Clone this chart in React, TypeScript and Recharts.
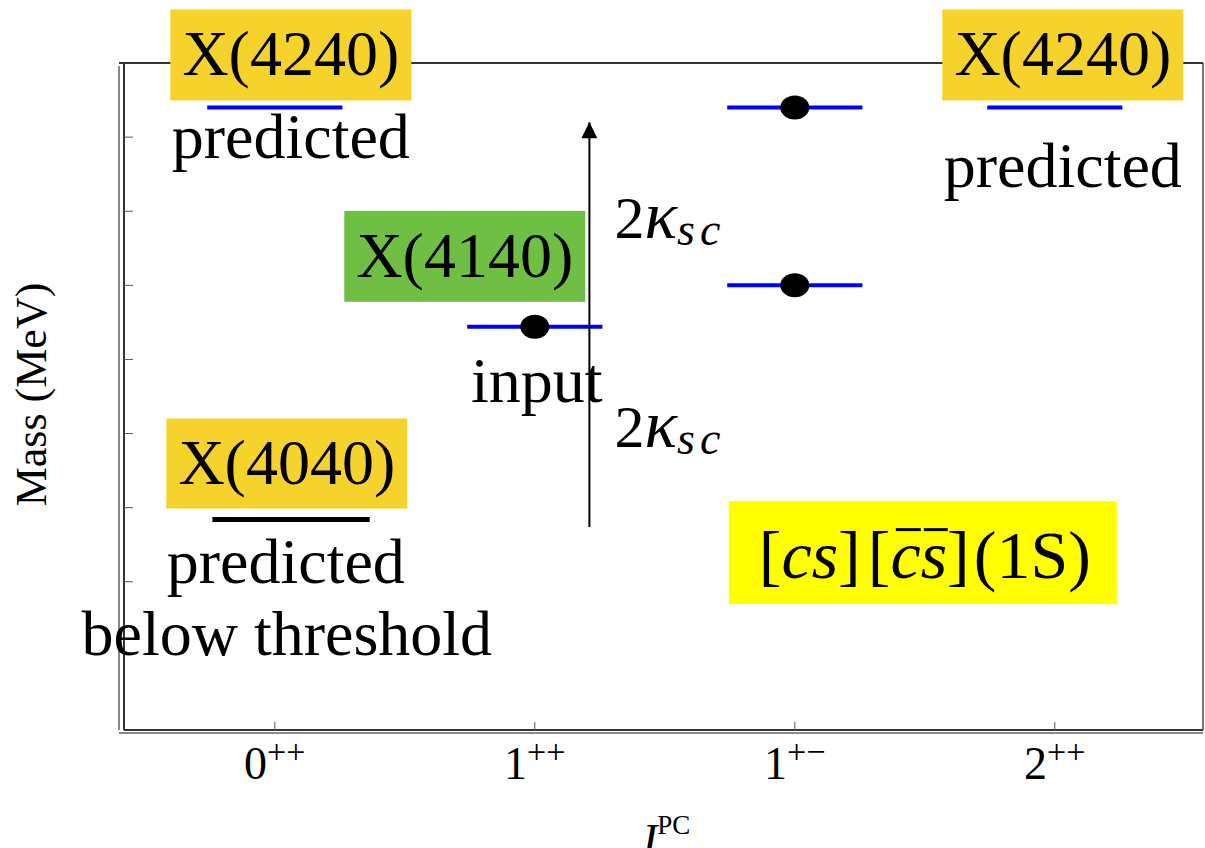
import React from 'react';
import {
  ComposedChart,
  XAxis,
  YAxis,
  Line,
  Scatter,
  ReferenceLine,
  ReferenceDot,
  Label,
} from 'recharts';

const SERIF = '"Liberation Serif", "Times New Roman", Times, serif';

// J^PC categories along the horizontal axis (value = position on the axis)
const categoryPositions = [0, 1, 2, 3];
const tickBases = ['0', '1', '1', '2'];
const tickSups = ['++', '++', '+\u2212', '++'];
const massTicks = [4000, 4050, 4100, 4150, 4200, 4250, 4300];

// [cs][c̄s̄](1S) multiplet levels, MeV
const levelPositions = [0, 1, 2, 2, 3];
const levelMasses = [4320, 4172, 4200, 4320, 4320];
// levels that carry a filled marker
const markerPositions = [1, 2, 2];
const markerMasses = [4172, 4200, 4320];
// 0++ state predicted below threshold
const belowThresholdSpan = [-0.24, 0.365];
const belowThresholdMass = 4042;
// 2κ_sc splitting arrow
const splitArrowPosition = 1.21;
const splitArrowMasses = [4037, 4310];

const X_DOMAIN: [number, number] = [-0.58, 3.57];
const Y_DOMAIN: [number, number] = [3900, 4350];
const LEVEL_HALF_WIDTH = 0.26;
const X_TICK_SIZE = 8;
const X_TICK_MARGIN = 2;

const GOLD = '#F5D22C';
const GREEN = '#6FBF44';
const YELLOW = '#FFFF00';
const BLUE = '#0000FF';

const levelSeries = levelPositions.map((p, i) => [
  { x: p - LEVEL_HALF_WIDTH, m: levelMasses[i] },
  { x: p + LEVEL_HALF_WIDTH, m: levelMasses[i] },
]);
const belowThresholdSeries = belowThresholdSpan.map((x) => ({ x, m: belowThresholdMass }));
const markerSeries = markerPositions.map((x, i) => ({ x, m: markerMasses[i] }));
const arrowSeries = splitArrowMasses.map((m) => ({ x: splitArrowPosition, m }));
const arrowTip = [{ x: splitArrowPosition, m: splitArrowMasses[1] }];

function XTick(props: any) {
  const { x, y, payload } = props;
  const i = categoryPositions.indexOf(payload.value);
  const axisY = y + X_TICK_SIZE + X_TICK_MARGIN;
  return (
    <text x={x} y={axisY + 49} textAnchor="middle" fontFamily={SERIF} fill="#000">
      <tspan fontSize={46}>{tickBases[i]}</tspan>
      <tspan fontSize={34} dy={-16}>{tickSups[i]}</tspan>
    </text>
  );
}

const EmptyTick = () => <g />;

function XTitle(props: any) {
  const { viewBox } = props;
  const cx = viewBox.x + viewBox.width / 2;
  return (
    <text x={cx} y={viewBox.y + 127} textAnchor="middle" fontFamily={SERIF} fill="#000">
      <tspan fontSize={46} fontStyle="italic">J</tspan>
      <tspan fontSize={27} dy={-22}>PC</tspan>
    </text>
  );
}

function YTitle(props: any) {
  const { viewBox } = props;
  const x = viewBox.x - 78;
  const y = viewBox.y + viewBox.height / 2 - 2;
  return (
    <text
      x={x}
      y={y}
      transform={`rotate(-90 ${x} ${y})`}
      textAnchor="middle"
      fontFamily={SERIF}
      fontSize={44}
      fill="#000"
    >
      Mass (MeV)
    </text>
  );
}

// boxed particle name
function Tag({ cx, cy, dx, top, bottom, fill, text }: any) {
  const w = 241;
  return (
    <g>
      <rect x={cx + dx - w / 2} y={cy + top} width={w} height={bottom - top} fill={fill} />
      <text
        x={cx + dx}
        y={cy + bottom - 25}
        textAnchor="middle"
        fontFamily={SERIF}
        fontSize={64}
        fill="#000"
      >
        {text}
      </text>
    </g>
  );
}

function Caption({ cx, cy, dx, dy, text }: any) {
  return (
    <text x={cx + dx} y={cy + dy} textAnchor="middle" fontFamily={SERIF} fontSize={64} fill="#000">
      {text}
    </text>
  );
}

function Kappa({ cx, cy }: any) {
  return (
    <text x={cx + 25} y={cy} fontFamily={SERIF} fontSize={60} fill="#000">
      <tspan>2</tspan>
      <tspan fontStyle="italic" fontSize={68}>κ</tspan>
      <tspan fontStyle="italic" fontSize={46} dy={7} letterSpacing={5}>
        sc
      </tspan>
    </text>
  );
}

// [cs][c̄s̄](1S) label in its yellow box, laid out piece by piece
function MultipletTag({ cx, cy }: any) {
  const base = cy + 26;
  const common = { fontFamily: SERIF, fontSize: 68, fill: '#000' };
  return (
    <g>
      <rect x={cx - 196} y={cy - 51} width={388} height={103} fill={YELLOW} />
      <text x={cx - 166} y={base} {...common}>
        <tspan>[</tspan>
        <tspan fontStyle="italic">cs</tspan>
        <tspan>]</tspan>
      </text>
      <text x={cx - 57} y={base} {...common}>
        <tspan>[</tspan>
        <tspan fontStyle="italic">cs</tspan>
        <tspan>]</tspan>
      </text>
      <rect x={cx - 29} y={cy - 24} width={25} height={3} fill="#000" />
      <rect x={cx - 1} y={cy - 24} width={24} height={3} fill="#000" />
      <text x={cx + 49} y={base} {...common}>
        (1S)
      </text>
    </g>
  );
}

const Marker = (props: any) => (
  <ellipse cx={props.cx} cy={props.cy} rx={14.5} ry={12} fill="#000" />
);

const ArrowHead = (props: any) => {
  const { cx, cy } = props;
  return <path d={`M${cx},${cy} L${cx - 8},${cy + 16} L${cx + 8},${cy + 16} Z`} fill="#000" />;
};

const ShadowLeft = (p: any) => (
  <line x1={p.x1 - 5} y1={p.y1} x2={p.x2 - 5} y2={p.y2 + 3} stroke="#888" strokeWidth={2} />
);
const ShadowBottom = (p: any) => (
  <line x1={p.x1 - 5} y1={p.y1 + 3} x2={p.x2} y2={p.y2 + 3} stroke="#888" strokeWidth={2} />
);
const TopEdge = (p: any) => (
  <line x1={p.x1 - 5} y1={p.y1} x2={p.x2} y2={p.y2} stroke="#333" strokeWidth={2} />
);

export default function App() {
  return (
    <div style={{ position: 'absolute', left: 0, top: 0, background: '#fff' }}>
      <ComposedChart
        width={1205}
        height={848}
        margin={{ top: 63, right: 2, bottom: 118, left: 124 }}
      >
        <XAxis
          dataKey="x"
          type="number"
          domain={X_DOMAIN}
          ticks={categoryPositions}
          allowDataOverflow
          mirror
          height={1}
          interval={0}
          tickSize={X_TICK_SIZE}
          tickMargin={X_TICK_MARGIN}
          axisLine={{ stroke: '#333', strokeWidth: 2 }}
          tickLine={{ stroke: '#555', strokeWidth: 1 }}
          tick={<XTick />}
        >
          <Label content={<XTitle />} />
        </XAxis>
        <YAxis
          dataKey="m"
          type="number"
          domain={Y_DOMAIN}
          ticks={massTicks}
          allowDataOverflow
          mirror
          width={1}
          interval={0}
          tickSize={9}
          axisLine={{ stroke: '#333', strokeWidth: 2 }}
          tickLine={{ stroke: '#555', strokeWidth: 1 }}
          tick={<EmptyTick />}
        >
          <Label content={<YTitle />} />
        </YAxis>

        <ReferenceLine x={X_DOMAIN[0]} shape={ShadowLeft} />
        <ReferenceLine y={Y_DOMAIN[0]} shape={ShadowBottom} />
        <ReferenceLine x={X_DOMAIN[1]} stroke="#777" strokeWidth={2} />
        <ReferenceLine y={Y_DOMAIN[1]} shape={TopEdge} />

        {levelSeries.map((d, i) => (
          <Line
            key={`level-${i}`}
            data={d}
            dataKey="m"
            type="linear"
            stroke={BLUE}
            strokeWidth={4}
            dot={false}
            activeDot={false}
            isAnimationActive={false}
          />
        ))}
        <Line
          data={belowThresholdSeries}
          dataKey="m"
          type="linear"
          stroke="#000"
          strokeWidth={5}
          dot={false}
          activeDot={false}
          isAnimationActive={false}
        />
        <Line
          data={arrowSeries}
          dataKey="m"
          type="linear"
          stroke="#000"
          strokeWidth={2}
          dot={false}
          activeDot={false}
          isAnimationActive={false}
        />
        <Scatter data={arrowTip} dataKey="m" shape={ArrowHead} isAnimationActive={false} />
        <Scatter data={markerSeries} dataKey="m" shape={Marker} isAnimationActive={false} />

        <ReferenceDot
          x={levelPositions[0]}
          y={levelMasses[0]}
          r={0}
          shape={(p: any) => (
            <g>
              <Tag cx={p.cx} cy={p.cy} dx={16} top={-98} bottom={-7} fill={GOLD} text="X(4240)" />
              <Caption cx={p.cx} cy={p.cy} dx={16} dy={51} text="predicted" />
            </g>
          )}
        />
        <ReferenceDot
          x={levelPositions[4]}
          y={levelMasses[4]}
          r={0}
          shape={(p: any) => (
            <g>
              <Tag cx={p.cx} cy={p.cy} dx={8} top={-98} bottom={-7} fill={GOLD} text="X(4240)" />
              <Caption cx={p.cx} cy={p.cy} dx={8} dy={80} text="predicted" />
            </g>
          )}
        />
        <ReferenceDot
          x={levelPositions[1]}
          y={levelMasses[1]}
          r={0}
          shape={(p: any) => (
            <g>
              <Tag cx={p.cx} cy={p.cy} dx={-70} top={-116} bottom={-25} fill={GREEN} text="X(4140)" />
              <Caption cx={p.cx} cy={p.cy} dx={2} dy={75} text="input" />
            </g>
          )}
        />
        <ReferenceDot
          x={0}
          y={belowThresholdMass}
          r={0}
          shape={(p: any) => (
            <g>
              <Tag cx={p.cx} cy={p.cy} dx={12} top={-101} bottom={-11} fill={GOLD} text="X(4040)" />
              <Caption cx={p.cx} cy={p.cy} dx={11} dy={63} text="predicted" />
              <Caption cx={p.cx} cy={p.cy} dx={12} dy={135} text="below threshold" />
            </g>
          )}
        />
        <ReferenceDot x={splitArrowPosition} y={4232} r={0} shape={(p: any) => <Kappa cx={p.cx} cy={p.cy} />} />
        <ReferenceDot x={splitArrowPosition} y={4091} r={0} shape={(p: any) => <Kappa cx={p.cx} cy={p.cy} />} />
        <ReferenceDot x={2.5} y={4020} r={0} shape={(p: any) => <MultipletTag cx={p.cx} cy={p.cy} />} />
      </ComposedChart>
    </div>
  );
}
